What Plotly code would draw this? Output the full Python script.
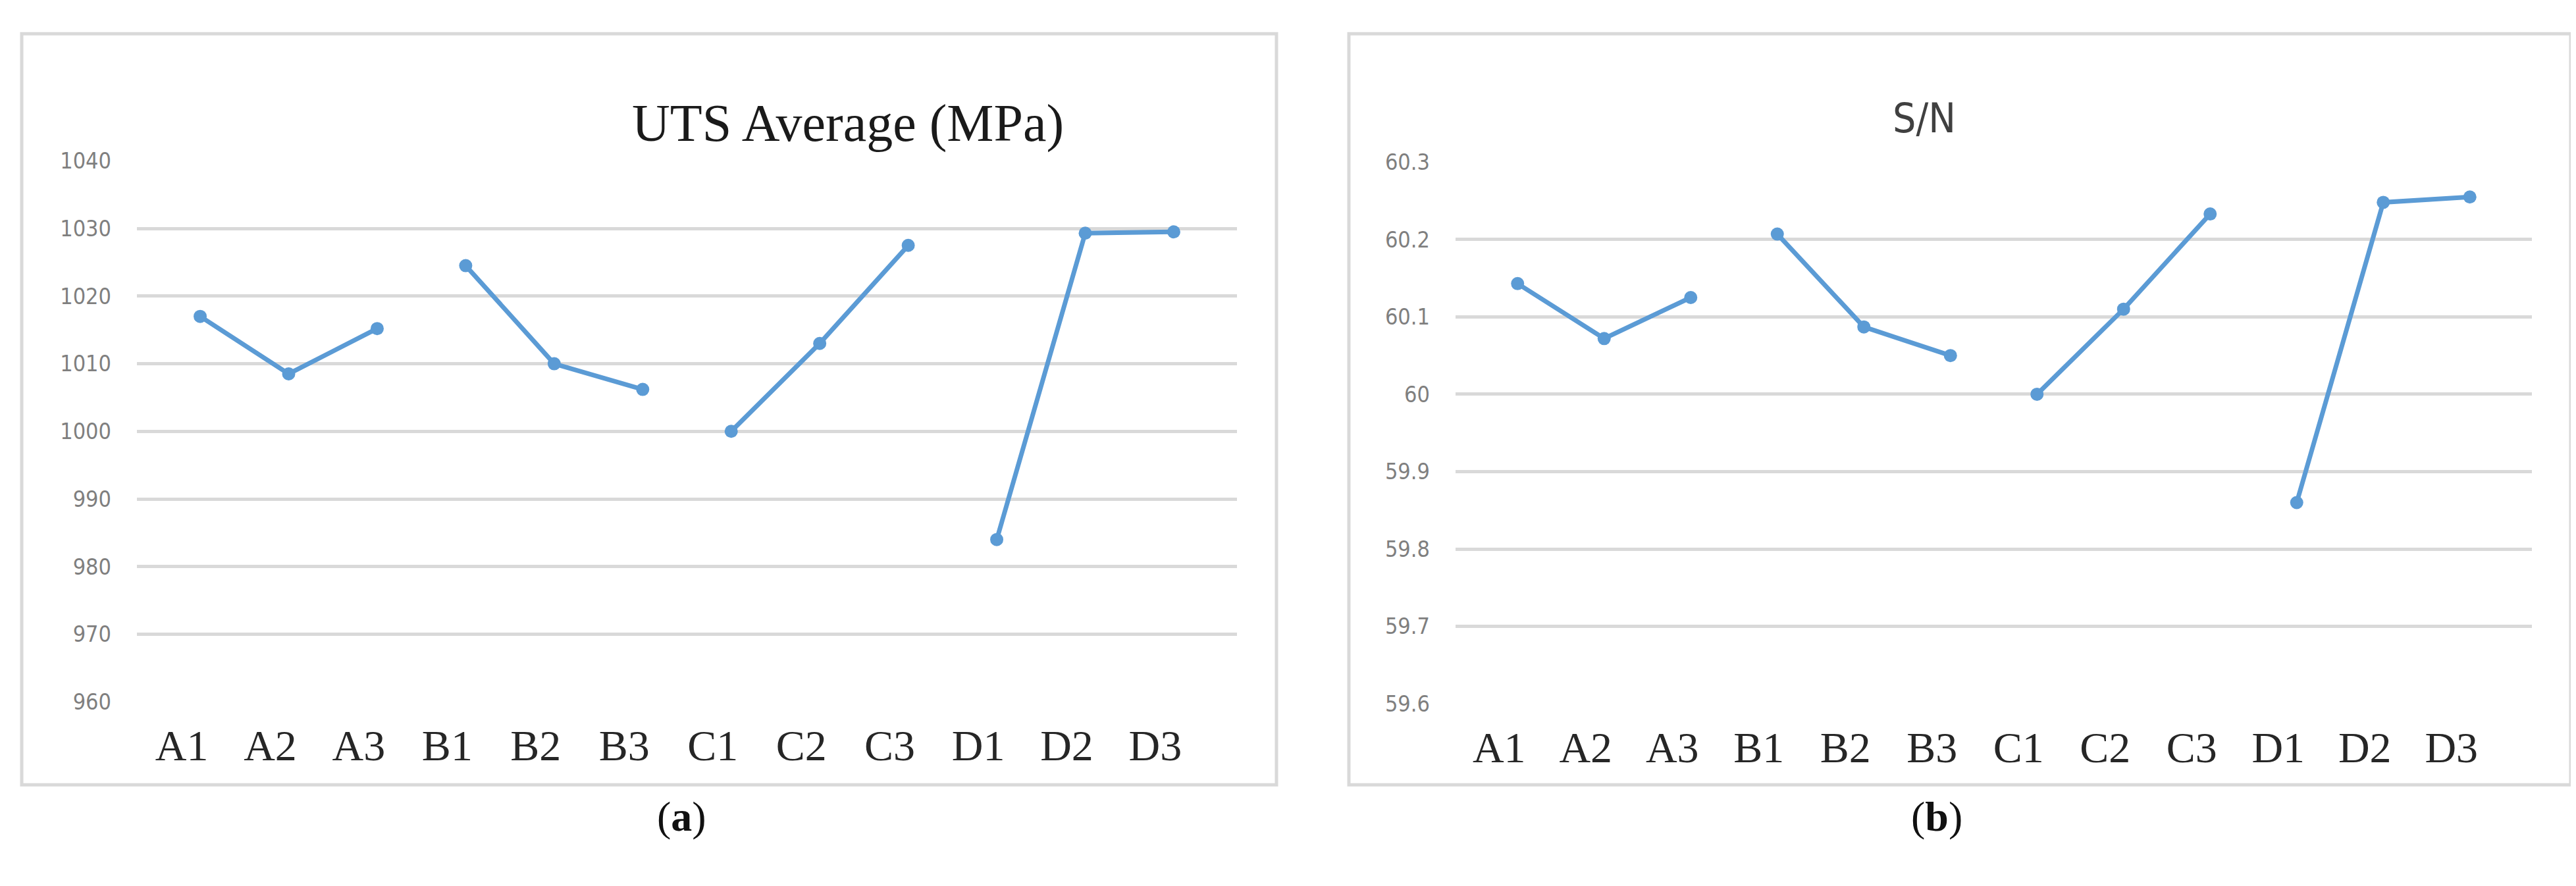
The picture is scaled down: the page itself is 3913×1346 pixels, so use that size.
import plotly.graph_objects as go

categories = ["A1","A2","A3","B1","B2","B3","C1","C2","C3","D1","D2","D3"]
uts = [1017, 1008.5, 1015.2, 1024.5, 1010, 1006.2, 1000, 1013, 1027.5, 984, 1029.3, 1029.5]
sn = [60.143, 60.072, 60.125, 60.207, 60.087, 60.05, 60.0, 60.11, 60.233, 59.86, 60.248, 60.255]
uts_ticks = [960, 970, 980, 990, 1000, 1010, 1020, 1030, 1040]
sn_ticks = [59.6, 59.7, 59.8, 59.9, 60, 60.1, 60.2, 60.3]
sn_ticktext = ["59.6", "59.7", "59.8", "59.9", "60", "60.1", "60.2", "60.3"]

W, H = 3913, 1346
color = "#5B9BD5"
fig = go.Figure()

for g in range(4):
    sl = slice(g*3, g*3+3)
    fig.add_trace(go.Scatter(x=categories[sl], y=uts[sl], mode="lines+markers",
                             line=dict(color=color, width=7), marker=dict(size=20, color=color),
                             xaxis="x", yaxis="y", showlegend=False))
    fig.add_trace(go.Scatter(x=categories[sl], y=sn[sl], mode="lines+markers",
                             line=dict(color=color, width=7), marker=dict(size=20, color=color),
                             xaxis="x2", yaxis="y2", showlegend=False))

def px(v): return v / W
def py(v): return 1 - v / H

xcommon = dict(type="category", categoryorder="array", categoryarray=categories,
               showgrid=False, showline=False, zeroline=False, ticks="",
               tickfont=dict(family="Liberation Serif", size=66, color="#262626"),
               ticklabelstandoff=22, ticklabelshift=-28)
ycommon = dict(showgrid=True, gridcolor="#D9D9D9", gridwidth=5, zeroline=False, showline=False,
               tickfont=dict(family="DejaVu Sans Condensed, Liberation Sans", size=34, color="#7F7F7F"),
               ticks="", ticklabelstandoff=38)

fig.update_layout(
    width=W, height=H, margin=dict(l=0, r=0, t=0, b=0),
    paper_bgcolor="white", plot_bgcolor="white",
    xaxis=dict(domain=[px(200), px(1871)], anchor="y", **xcommon),
    yaxis=dict(domain=[py(1070), py(223)], range=[960, 1040], tickvals=uts_ticks, anchor="x", **ycommon),
    xaxis2=dict(domain=[px(2203), px(3838)], anchor="y2", **xcommon),
    yaxis2=dict(domain=[py(1073), py(225)], range=[59.6, 60.3], tickvals=sn_ticks, ticktext=sn_ticktext,
                anchor="x2", **ycommon),
    shapes=[
        dict(type="rect", xref="paper", yref="paper", x0=px(25), x1=px(1931), y0=py(1200), y1=py(24),
             line=dict(color="#D9D9D9", width=5)),
        dict(type="rect", xref="paper", yref="paper", x0=px(2041), x1=px(3897), y0=py(1200), y1=py(24),
             line=dict(color="#D9D9D9", width=5)),
    ],
    annotations=[
        dict(text="UTS Average (MPa)", x=px(950), y=py(116), xref="paper", yref="paper", showarrow=False,
             font=dict(family="Liberation Serif", size=80, color="#1a1a1a")),
        dict(text="S/N", x=px(2965), y=py(116), xref="paper", yref="paper", showarrow=False,
             font=dict(family="DejaVu Sans Condensed, Liberation Sans", size=62, color="#404040")),
        dict(text="(<b>a</b>)", x=px(988), y=py(1288), xref="paper", yref="paper", showarrow=False,
             font=dict(family="Liberation Serif", size=64, color="#111")),
        dict(text="(<b>b</b>)", x=px(2975), y=py(1288), xref="paper", yref="paper", showarrow=False,
             font=dict(family="Liberation Serif", size=64, color="#111")),
    ],
)

fig.write_html("out.html")
